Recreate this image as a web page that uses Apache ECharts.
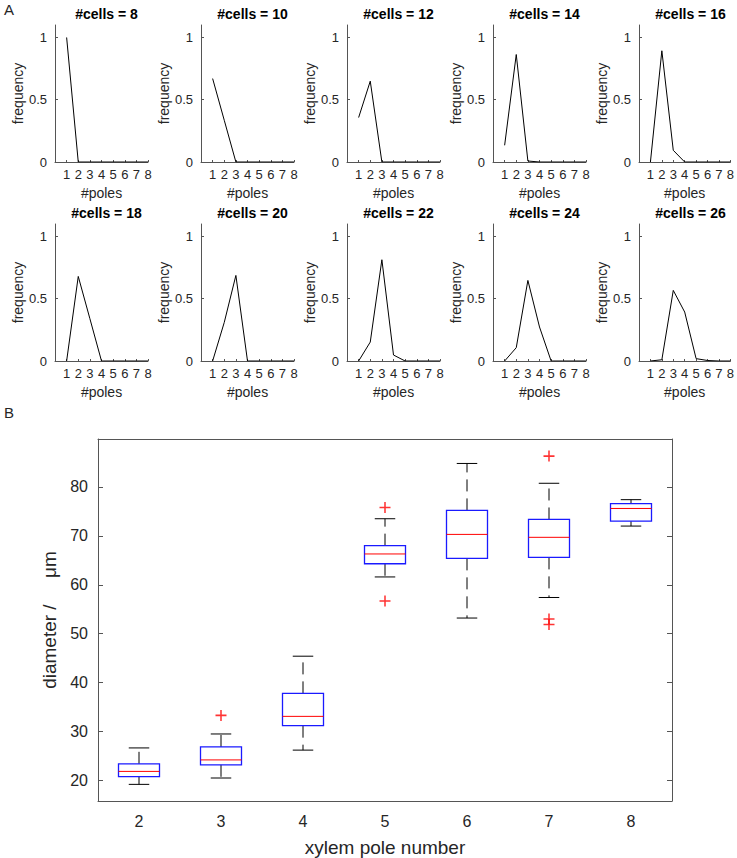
<!DOCTYPE html>
<html><head><meta charset="utf-8">
<script src="https://cdn.jsdelivr.net/npm/echarts@6/dist/echarts.min.js"></script>
<style>html,body{margin:0;padding:0;background:#fff}#c{width:737px;height:858px}</style>
</head><body><div id="c"></div>
<script>
// ---- Panel A data ----
const cellCounts = [8, 10, 12, 14, 16, 18, 20, 22, 24, 26];
const poles = [1, 2, 3, 4, 5, 6, 7, 8];
const freq8  = [1.00, 0, 0, 0, 0, 0, 0, 0];
const freq10 = [0.67, 0.335, 0, 0, 0, 0, 0, 0];
const freq12 = [0.357, 0.649, 0, 0, 0, 0, 0, 0];
const freq14 = [0.134, 0.863, 0.008, 0, 0, 0, 0, 0];
const freq16 = [0, 0.893, 0.094, 0, 0, 0, 0, 0];
const freq18 = [0, 0.679, 0.34, 0, 0, 0, 0, 0];
const freq20 = [0, 0.31, 0.687, 0, 0, 0, 0, 0];
const freq22 = [0, 0.152, 0.813, 0.048, 0, 0, 0, 0];
const freq24 = [0, 0.107, 0.647, 0.273, 0, 0, 0, 0];
const freq26 = [0, 0.01, 0.567, 0.393, 0.019, 0.004, 0, 0];
const freqTicks = [0, 0.5, 1];

// ---- Panel B data ----
const poleNumbers = ['2', '3', '4', '5', '6', '7', '8'];
const whiskerLow  = [19.2, 20.5, 26.2, 61.6, 53.2, 57.4, 72.0];
const quart1      = [20.8, 23.2, 31.2, 64.3, 65.4, 65.6, 73.0];
const medians     = [21.85, 24.2, 33.1, 66.3, 70.3, 69.7, 75.6];
const quart3      = [23.4, 26.85, 37.8, 68.0, 75.2, 73.35, 76.6];
const whiskerHigh = [26.65, 29.5, 45.4, 73.5, 84.8, 80.75, 77.4];
const outlierGroup = ['3', '5', '5', '7', '7', '7'];
const outlierValue = [33.3, 75.8, 56.7, 86.3, 53.0, 51.9];

const freqs = [freq8, freq10, freq12, freq14, freq16, freq18, freq20, freq22, freq24, freq26];
const FONT = '"Liberation Sans", Arial, Helvetica, sans-serif';
const AX = '#555555';
const TXT = '#262626';

const grids = [], xAxes = [], yAxes = [], series = [], titles = [];
const pLeft0 = 55, pStep = 146, pW = 93, pH = 137, rowTops = [25, 224];

cellCounts.forEach((n, i) => {
  const r = Math.floor(i / 5), c = i % 5;
  const left = pLeft0 + c * pStep, top = rowTops[r];
  grids.push({left: left, top: top, width: pW, height: pH, containLabel: false});
  xAxes.push({
    type: 'value', gridIndex: i, min: 0, max: 8, interval: 1,
    axisLine: {lineStyle: {color: AX, width: 1}},
    axisTick: {inside: true, length: 2, lineStyle: {color: AX}},
    splitLine: {show: false},
    axisLabel: {showMinLabel: false, fontSize: 13, color: TXT, fontFamily: FONT, margin: 6},
    name: '#poles', nameLocation: 'middle', nameGap: 24,
    nameTextStyle: {fontSize: 14, color: TXT, fontFamily: FONT}
  });
  yAxes.push({
    type: 'value', gridIndex: i, min: 0, max: 1.1, interval: 0.5,
    axisLine: {show: true, lineStyle: {color: AX, width: 1}},
    axisTick: {show: true, inside: true, length: 3, lineStyle: {color: AX}},
    splitLine: {show: false},
    axisLabel: {showMaxLabel: false, fontSize: 13, color: TXT, fontFamily: FONT, margin: 8,
      formatter: v => (freqTicks.indexOf(v) >= 0 ? String(v) : '')},
    name: 'frequency', nameLocation: 'middle', nameGap: 30,
    nameTextStyle: {fontSize: 14, color: TXT, fontFamily: FONT}
  });
  series.push({
    type: 'line', xAxisIndex: i, yAxisIndex: i, symbol: 'none', animation: false,
    lineStyle: {color: '#000', width: 1},
    data: poles.map((p, k) => [p, freqs[i][k]])
  });
  titles.push({
    text: '#cells = ' + n, left: left + pW / 2, top: top - 23, textAlign: 'center',
    textStyle: {fontSize: 14, fontWeight: 'bold', color: '#000', fontFamily: FONT}
  });
});

// Panel B grid (index 10)
const bi = 10;
grids.push({left: 98, top: 439, width: 574, height: 362});
xAxes.push({
  type: 'category', gridIndex: bi, data: poleNumbers, boundaryGap: true, position: 'bottom',
  axisLine: {lineStyle: {color: AX, width: 1}},
  axisTick: {alignWithLabel: true, inside: true, length: 5, lineStyle: {color: AX}},
  axisLabel: {fontSize: 16, color: TXT, fontFamily: FONT, margin: 12},
  name: 'xylem pole number', nameLocation: 'middle', nameGap: 37,
  nameTextStyle: {fontSize: 19, color: TXT, fontFamily: FONT}
});
xAxes.push({
  type: 'category', gridIndex: bi, data: poleNumbers, boundaryGap: true, position: 'top',
  axisLine: {lineStyle: {color: AX, width: 1}},
  axisTick: {alignWithLabel: true, inside: true, length: 5, lineStyle: {color: AX}},
  axisLabel: {show: false}
});
yAxes.push({
  type: 'value', gridIndex: bi, min: 15.8, max: 89.8, position: 'left',
  axisLine: {show: true, lineStyle: {color: AX, width: 1}},
  axisTick: {show: true, inside: true, length: 5, lineStyle: {color: AX}},
  splitLine: {show: false},
  axisLabel: {showMinLabel: false, showMaxLabel: false, fontSize: 16, color: TXT, fontFamily: FONT, margin: 10},
  name: 'diameter /\u00a0\u00a0\u00a0\u00a0\u00a0\u03bcm', nameLocation: 'middle', nameGap: 38,
  nameTextStyle: {fontSize: 19, color: TXT, fontFamily: FONT}
});
yAxes.push({
  type: 'value', gridIndex: bi, min: 15.8, max: 89.8, position: 'right',
  axisLine: {show: true, lineStyle: {color: AX, width: 1}},
  axisTick: {show: true, inside: true, length: 5, lineStyle: {color: AX}},
  splitLine: {show: false},
  axisLabel: {show: false}
});

const boxData = poleNumbers.map((p, k) => [k, whiskerLow[k], quart1[k], medians[k], quart3[k], whiskerHigh[k]]);

series.push({
  type: 'custom', xAxisIndex: 10, yAxisIndex: 10, animation: false,
  encode: {x: 0, y: [1, 2, 3, 4, 5]},
  data: boxData,
  renderItem: function (params, api) {
    const x = api.value(0);
    const band = api.size([1, 0])[0];
    const hw = band * 0.25, cw = band * 0.125;
    const lo = api.coord([x, api.value(1)]);
    const q1 = api.coord([x, api.value(2)]);
    const md = api.coord([x, api.value(3)]);
    const q3 = api.coord([x, api.value(4)]);
    const hi = api.coord([x, api.value(5)]);
    const cx = lo[0];
    const dash = {stroke: '#000', lineWidth: 1, lineDash: [12, 7]};
    const solid = {stroke: '#000', lineWidth: 1};
    return {type: 'group', children: [
      {type: 'line', shape: {x1: cx, y1: q3[1], x2: cx, y2: hi[1]}, style: dash},
      {type: 'line', shape: {x1: cx, y1: q1[1], x2: cx, y2: lo[1]}, style: dash},
      {type: 'line', shape: {x1: cx - cw, y1: hi[1], x2: cx + cw, y2: hi[1]}, style: solid},
      {type: 'line', shape: {x1: cx - cw, y1: lo[1], x2: cx + cw, y2: lo[1]}, style: solid},
      {type: 'rect', shape: {x: cx - hw, y: q3[1], width: 2 * hw, height: q1[1] - q3[1]},
        style: {stroke: '#1a1aff', fill: 'none', lineWidth: 1.3}},
      {type: 'line', shape: {x1: cx - hw, y1: md[1], x2: cx + hw, y2: md[1]},
        style: {stroke: '#ff0000', lineWidth: 1}}
    ]};
  }
});

series.push({
  type: 'scatter', xAxisIndex: 10, yAxisIndex: 10, animation: false,
  symbol: 'path://M4.3,0H5.7V4.3H10V5.7H5.7V10H4.3V5.7H0V4.3H4.3Z', symbolSize: 11,
  itemStyle: {color: '#ff0000'},
  data: outlierGroup.map((g, k) => [poleNumbers.indexOf(g), outlierValue[k]])
});

const chart = echarts.init(document.getElementById('c'), null, {renderer: 'svg'});
chart.setOption({
  animation: false,
  backgroundColor: '#fff',
  title: titles,
  grid: grids, xAxis: xAxes, yAxis: yAxes, series: series,
  graphic: [
    {type: 'text', left: 4, top: 2, style: {text: 'A', fontSize: 15, fill: TXT, fontFamily: FONT}},
    {type: 'text', left: 4, top: 405, style: {text: 'B', fontSize: 15, fill: TXT, fontFamily: FONT}}
  ]
});
</script></body></html>
